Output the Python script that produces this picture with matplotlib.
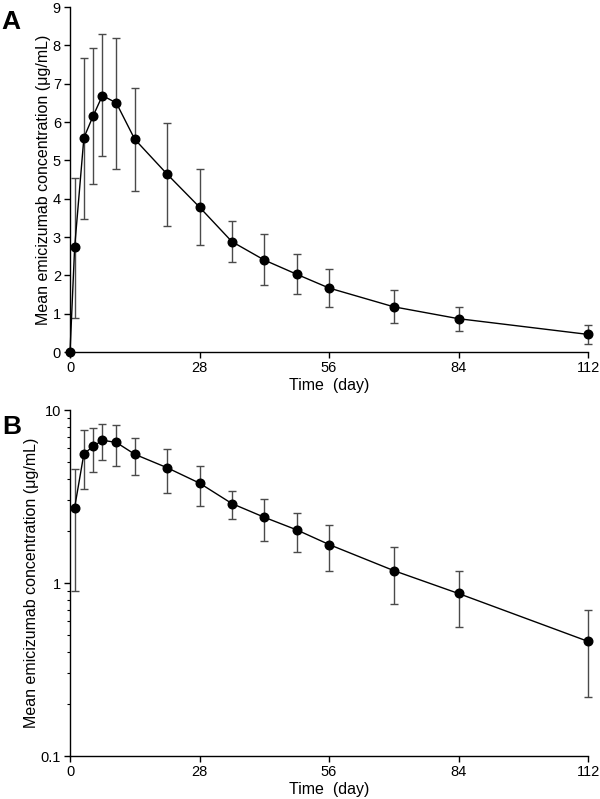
import matplotlib
matplotlib.use("Agg")
import matplotlib.pyplot as plt
from matplotlib.ticker import FixedLocator, LogLocator, NullFormatter, FuncFormatter
import numpy as np

plt.rcParams["font.family"] = ["Liberation Sans", "DejaVu Sans"]

# ---------------------------------------------------------------------------
# Data
# ---------------------------------------------------------------------------
days = [0, 1, 3, 5, 7, 10, 14, 21, 28, 35, 42, 49, 56, 70, 84, 112]
mean_conc = [0.0, 2.73, 5.59, 6.16, 6.69, 6.50, 5.55, 4.64, 3.78, 2.88,
             2.40, 2.03, 1.67, 1.18, 0.87, 0.46]
upper = [0.0, 4.55, 7.68, 7.92, 8.29, 8.19, 6.88, 5.98, 4.77, 3.41,
         3.08, 2.55, 2.16, 1.62, 1.17, 0.70]
lower = [0.0, 0.90, 3.48, 4.39, 5.11, 4.78, 4.19, 3.30, 2.79, 2.36,
         1.75, 1.52, 1.18, 0.76, 0.56, 0.22]

x_ticks = [0, 28, 56, 84, 112]
y_label = "Mean emicizumab concentration (\u03bcg/mL)"
x_label = "Time  (day)"


def style_axes(ax):
    for side in ("top", "right"):
        ax.spines[side].set_visible(False)
    for side in ("left", "bottom"):
        ax.spines[side].set_linewidth(1.0)
    ax.set_xlim(0, 112)
    ax.xaxis.set_major_locator(FixedLocator(x_ticks))
    ax.tick_params(axis="both", which="major", direction="out", length=4,
                   width=1, labelsize=10.5, colors="black", pad=2.5)
    ax.tick_params(axis="both", which="minor", direction="out", length=2.5, width=0.8)
    ax.set_xlabel(x_label, fontsize=11.5, labelpad=2)
    ax.set_ylabel(y_label, fontsize=11.5, labelpad=1)


def draw(ax, x, m, lo, hi):
    x = np.asarray(x)
    m = np.asarray(m)
    err = np.vstack([m - np.asarray(lo), np.asarray(hi) - m])
    cont = ax.errorbar(x, m, yerr=err, fmt="none", ecolor="#4a4a4a", elinewidth=1.0,
                       capsize=2.8, capthick=1.0, zorder=2)
    for art in cont.lines[1] + cont.lines[2]:
        art.set_clip_on(False)
    ax.plot(x, m, color="black", lw=1.0, marker="o", markersize=6.2,
            markerfacecolor="black", markeredgecolor="black", zorder=3,
            clip_on=False)


fig = plt.figure(figsize=(6.0, 7.99), dpi=100)

# Panel A: linear scale
axA = fig.add_axes([0.1167, 0.5594, 0.8633, 0.4318])
draw(axA, days, mean_conc, lower, upper)
axA.set_ylim(0, 9)
axA.yaxis.set_major_locator(FixedLocator(range(0, 10)))
style_axes(axA)
fig.text(0.003, 0.972, "A", fontsize=19, fontweight="bold", va="center", ha="left")

# Panel B: log scale (day 0 omitted)
axB = fig.add_axes([0.1167, 0.0538, 0.8633, 0.4330])
draw(axB, days[1:], mean_conc[1:], lower[1:], upper[1:])
axB.set_yscale("log")
axB.set_ylim(0.1, 10)
axB.yaxis.set_major_locator(FixedLocator([0.1, 1, 10]))
axB.yaxis.set_major_formatter(FuncFormatter(lambda v, p: f"{v:g}"))
axB.yaxis.set_minor_locator(LogLocator(base=10, subs=np.arange(2, 10)))
axB.yaxis.set_minor_formatter(NullFormatter())
style_axes(axB)
fig.text(0.003, 0.466, "B", fontsize=19, fontweight="bold", va="center", ha="left")

fig.savefig("out.png", dpi=100)
